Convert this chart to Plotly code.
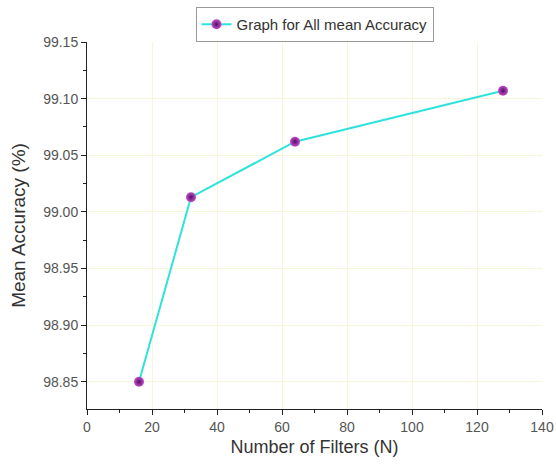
import plotly.graph_objects as go

# Mean accuracy against number of filters
filters = [16, 32, 64, 128]
mean_accuracy = [98.850, 99.013, 99.062, 99.107]

x_ticks = [0, 20, 40, 60, 80, 100, 120, 140]
y_ticks = [98.85, 98.90, 98.95, 99.00, 99.05, 99.10, 99.15]

font_family = "Liberation Sans, Arial, sans-serif"

fig = go.Figure()
fig.add_trace(go.Scatter(
    x=filters,
    y=mean_accuracy,
    mode="lines+markers",
    name="Graph for All mean Accuracy",
    line=dict(color="#2fe3dc", width=2),
    marker=dict(
        size=10,
        color="#c050c8",
        gradient=dict(type="radial", color="#5a0a6a"),
        line=dict(width=0),
    ),
))

axis_common = dict(
    showline=True,
    linecolor="#222222",
    linewidth=1,
    ticks="outside",
    ticklen=5,
    tickcolor="#222222",
    showgrid=True,
    gridcolor="#f8f6d8",
    gridwidth=1,
    zeroline=False,
    mirror=False,
    automargin=False,
    tickfont=dict(family=font_family, size=14, color="#555555"),
    minor=dict(ticks="outside", ticklen=3, tickcolor="#222222", showgrid=False),
)

fig.update_xaxes(
    range=[0, 140],
    tickvals=x_ticks,
    ticktext=[str(v) for v in x_ticks],
    minor_dtick=10,
    title=dict(text="Number of Filters (N)", font=dict(family=font_family, size=18, color="#333333"), standoff=6),
    **axis_common,
)
fig.update_yaxes(
    range=[98.826, 99.15],
    tickvals=y_ticks,
    ticktext=[f"{v:.2f}" for v in y_ticks],
    minor_dtick=0.025,
    minor_tick0=98.85,
    title=dict(text="Mean Accuracy (%)", font=dict(family=font_family, size=19, color="#333333"), standoff=12),
    **axis_common,
)

fig.update_layout(
    width=556,
    height=468,
    margin=dict(l=87, r=14, t=42, b=59, autoexpand=False),
    paper_bgcolor="white",
    plot_bgcolor="white",
    showlegend=True,
    legend=dict(
        x=0.5, xref="paper",
        y=0.985, yref="container",
        xanchor="center", yanchor="top",
        bordercolor="#999999",
        borderwidth=1,
        bgcolor="white",
        font=dict(family=font_family, size=15, color="#333333"),
        itemwidth=30,
        tracegroupgap=0,
    ),
)

fig.write_html("out.html")
